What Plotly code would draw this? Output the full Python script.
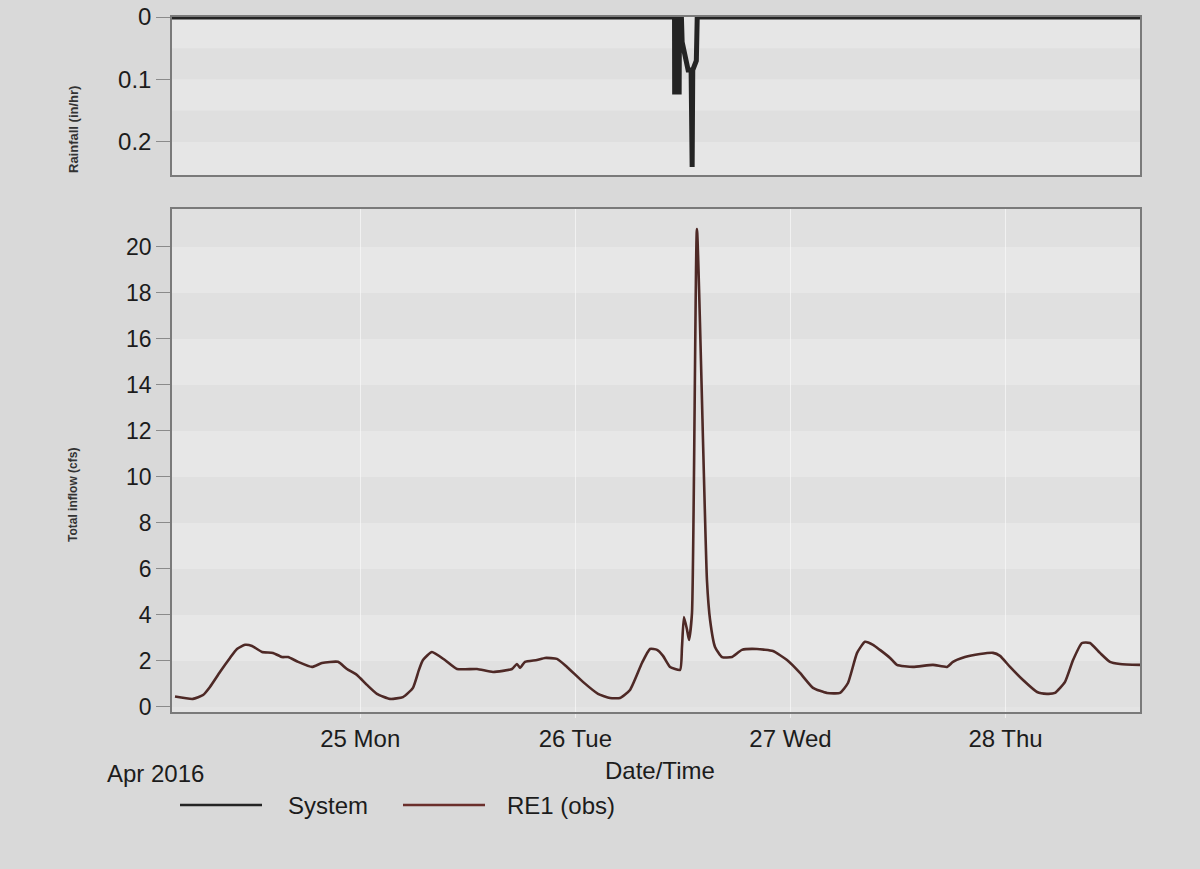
import plotly.graph_objects as go

# ---------------- data ----------------
flow_time = [
    "2016-04-24 03:20", "2016-04-24 05:20", "2016-04-24 06:28", "2016-04-24 07:14", "2016-04-24 08:21",
    "2016-04-24 09:28", "2016-04-24 10:15", "2016-04-24 11:09", "2016-04-24 11:56", "2016-04-24 13:03",
    "2016-04-24 14:16", "2016-04-24 15:16", "2016-04-24 15:57", "2016-04-24 17:04", "2016-04-24 18:37",
    "2016-04-24 19:44", "2016-04-24 21:31", "2016-04-24 22:31", "2016-04-24 23:38", "2016-04-25 00:45",
    "2016-04-25 01:52", "2016-04-25 03:19", "2016-04-25 04:46", "2016-04-25 05:53", "2016-04-25 06:33",
    "2016-04-25 07:00", "2016-04-25 08:00", "2016-04-25 09:27", "2016-04-25 10:48", "2016-04-25 13:02",
    "2016-04-25 14:49", "2016-04-25 16:56", "2016-04-25 17:29", "2016-04-25 17:50", "2016-04-25 18:23",
    "2016-04-25 19:43", "2016-04-25 20:37", "2016-04-25 21:57", "2016-04-25 23:04", "2016-04-26 00:51",
    "2016-04-26 02:32", "2016-04-26 03:52", "2016-04-26 04:59", "2016-04-26 06:06", "2016-04-26 07:26",
    "2016-04-26 08:20", "2016-04-26 09:07", "2016-04-26 09:47", "2016-04-26 10:34", "2016-04-26 11:41",
    "2016-04-26 11:54", "2016-04-26 12:07", "2016-04-26 12:28", "2016-04-26 12:41", "2016-04-26 13:01",
    "2016-04-26 13:34", "2016-04-26 14:41", "2016-04-26 15:02", "2016-04-26 15:35", "2016-04-26 16:22",
    "2016-04-26 17:29", "2016-04-26 18:35", "2016-04-26 20:16", "2016-04-26 22:03", "2016-04-26 23:37",
    "2016-04-27 01:04", "2016-04-27 02:31", "2016-04-27 04:05", "2016-04-27 05:32", "2016-04-27 06:25",
    "2016-04-27 07:26", "2016-04-27 08:19", "2016-04-27 09:13", "2016-04-27 09:59", "2016-04-27 11:07",
    "2016-04-27 11:53", "2016-04-27 13:40", "2016-04-27 15:54", "2016-04-27 17:28", "2016-04-27 18:08",
    "2016-04-27 19:28", "2016-04-27 21:09", "2016-04-27 22:36", "2016-04-27 23:23", "2016-04-28 00:30",
    "2016-04-28 01:57", "2016-04-28 03:31", "2016-04-28 04:37", "2016-04-28 05:31", "2016-04-28 06:38",
    "2016-04-28 07:32", "2016-04-28 08:32", "2016-04-28 09:25", "2016-04-28 10:32", "2016-04-28 11:39",
    "2016-04-28 12:46", "2016-04-28 15:00",
]
flow_vals = [
    0.45, 0.35, 0.52, 0.87, 1.52,
    2.13, 2.52, 2.70, 2.65, 2.39,
    2.35, 2.17, 2.17, 1.96, 1.74,
    1.91, 1.96, 1.65, 1.39, 0.96,
    0.57, 0.35, 0.43, 0.83, 1.61,
    2.04, 2.39, 2.04, 1.65, 1.65,
    1.52, 1.65, 1.87, 1.70, 1.96,
    2.04, 2.13, 2.09, 1.74, 1.09,
    0.57, 0.39, 0.39, 0.74, 1.91,
    2.52, 2.48, 2.22, 1.74, 1.61,
    2.61, 3.91, 3.35, 2.91, 4.09,
    20.78, 5.52, 3.78, 2.61, 2.17,
    2.17, 2.48, 2.52, 2.43, 2.04,
    1.48, 0.83, 0.61, 0.61, 1.04,
    2.35, 2.83, 2.70, 2.48, 2.13,
    1.83, 1.74, 1.83, 1.74, 1.96,
    2.17, 2.30, 2.35, 2.22, 1.74,
    1.17, 0.65, 0.57, 0.61, 1.09,
    2.04, 2.78, 2.78, 2.35, 1.96,
    1.87, 1.83,
]

rain_time = [
    "2016-04-24 03:00", "2016-04-26 11:04", "2016-04-26 11:05", "2016-04-26 11:35", "2016-04-26 11:37",
    "2016-04-26 11:50", "2016-04-26 11:55", "2016-04-26 12:35", "2016-04-26 12:55", "2016-04-26 12:58",
    "2016-04-26 13:02", "2016-04-26 13:06", "2016-04-26 13:30", "2016-04-26 13:36", "2016-04-28 15:00",
]
rain_vals = [0, 0, 0.12, 0.12, 0, 0, 0.04, 0.085, 0.085, 0.24, 0.24, 0.085, 0.07, 0, 0]

day_ticks = ["2016-04-25", "2016-04-26", "2016-04-27", "2016-04-28"]
day_labels = ["25 Mon", "26 Tue", "27 Wed", "28 Thu"]
flow_ticks = [0, 2, 4, 6, 8, 10, 12, 14, 16, 18, 20]
rain_ticks = [0, 0.1, 0.2]
rain_labels = ["0", "0.1", "0.2"]

x_range = ["2016-04-24 03:00", "2016-04-28 15:00"]
flow_range = [-0.22, 21.65]
rain_range = [0.253, 0]

# ---------------- layout helpers ----------------
W, H = 1200, 869
ML, MR, MT, MB = 172, 60, 17, 157
PW, PH = W - ML - MR, H - MT - MB


def px(x):
    return (x - ML) / PW


def py(y):
    return (H - MB - y) / PH


FONT = "Liberation Sans, Arial, sans-serif"
TXT = "#1c1c1c"
SYS_COLOR = "#242424"
OBS_COLOR = "#4e2926"

fig = go.Figure()
fig.add_trace(go.Scatter(x=rain_time, y=rain_vals, mode="lines", name="System",
                         line=dict(color=SYS_COLOR, width=5), xaxis="x2", yaxis="y2",
                         showlegend=False))
fig.add_trace(go.Scatter(x=flow_time, y=flow_vals, mode="lines", name="RE1 (obs)",
                         line=dict(color=OBS_COLOR, width=2.6, shape="spline", smoothing=0.5),
                         xaxis="x", yaxis="y", showlegend=False))

shapes = []
# horizontal bands (flow)
edges = flow_ticks + [flow_ticks[-1] + 2]
for i in range(len(edges) - 1):
    shapes.append(dict(type="rect", xref="x domain", yref="y", x0=0, x1=1,
                       y0=max(edges[i], flow_range[0]), y1=min(edges[i + 1], flow_range[1]),
                       fillcolor="#e7e7e7" if i % 2 else "#e0e0e0", line=dict(width=0), layer="below"))
# bands (rain)
rb = [0, 0.05, 0.1, 0.15, 0.2, 0.253]
for i in range(len(rb) - 1):
    shapes.append(dict(type="rect", xref="x2 domain", yref="y2", x0=0, x1=1, y0=rb[i], y1=rb[i + 1],
                       fillcolor="#e6e6e6" if i % 2 == 0 else "#dfdfdf", line=dict(width=0), layer="below"))

# manual legend
legend_items = [(180, 262, 286, "System", SYS_COLOR), (403, 485, 505, "RE1 (obs)", "#6b2f2c")]
annotations = []
for x0, x1, xt, label, col in legend_items:
    shapes.append(dict(type="line", xref="paper", yref="paper", x0=px(x0), x1=px(x1),
                       y0=py(805), y1=py(805), line=dict(color=col, width=2.5)))
    annotations.append(dict(text=label, xref="paper", yref="paper", x=px(xt), y=py(805),
                            xanchor="left", yanchor="middle", showarrow=False,
                            font=dict(family=FONT, size=24, color=TXT)))

annotations += [
    dict(text="Apr 2016", xref="paper", yref="paper", x=px(155), y=py(773), xanchor="center",
         yanchor="middle", showarrow=False, font=dict(family=FONT, size=24, color=TXT)),
    dict(text="Date/Time", xref="paper", yref="paper", x=px(660), y=py(770), xanchor="center",
         yanchor="middle", showarrow=False, font=dict(family=FONT, size=24, color=TXT)),
    dict(text="<b>Rainfall (in/hr)</b>", xref="paper", yref="paper", x=px(73), y=py(130),
         xanchor="center", yanchor="middle", textangle=-90, showarrow=False,
         font=dict(family=FONT, size=13, color="#333333")),
    dict(text="<b>Total inflow (cfs)</b>", xref="paper", yref="paper", x=px(73), y=py(495),
         xanchor="center", yanchor="middle", textangle=-90, showarrow=False,
         font=dict(family=FONT, size=12, color="#333333")),
]

ycommon = dict(showline=True, mirror=True, linecolor="#7a7a7a", linewidth=1.5,
               ticks="outside", ticklen=14, tickcolor="#8a8a8a", tickwidth=1,
               zeroline=False, showgrid=False, automargin=False)

rain_bottom = 1 - (175 - MT) / PH
flow_top = 1 - (209 - MT) / PH

fig.update_layout(
    width=W, height=H,
    margin=dict(l=ML, r=MR, t=MT, b=MB),
    paper_bgcolor="#d9d9d9",
    plot_bgcolor="#e4e4e4",
    shapes=shapes,
    annotations=annotations,
    xaxis=dict(domain=[0, 1], anchor="y", type="date", range=x_range,
               tickvals=day_ticks, ticktext=day_labels, showgrid=True,
               gridcolor="rgba(248,248,248,0.7)", gridwidth=1,
               ticks="outside", ticklen=4, tickcolor="rgba(248,248,248,0.7)",
               tickfont=dict(family=FONT, size=24, color=TXT),
               showline=True, mirror=True, linecolor="#7a7a7a", linewidth=1.5,
               zeroline=False, automargin=False),
    xaxis2=dict(domain=[0, 1], anchor="y2", type="date", range=x_range, matches="x",
                showticklabels=False, showgrid=False, showline=True, mirror=True,
                linecolor="#7a7a7a", linewidth=1.5, ticks="", automargin=False),
    yaxis=dict(domain=[0, flow_top], anchor="x", range=flow_range, tickvals=flow_ticks,
               tickfont=dict(family=FONT, size=23, color=TXT), **ycommon),
    yaxis2=dict(domain=[rain_bottom, 1], anchor="x2", range=rain_range, tickvals=rain_ticks,
                ticktext=rain_labels, tickfont=dict(family=FONT, size=24, color=TXT), **ycommon),
)

fig.write_html("out.html")
